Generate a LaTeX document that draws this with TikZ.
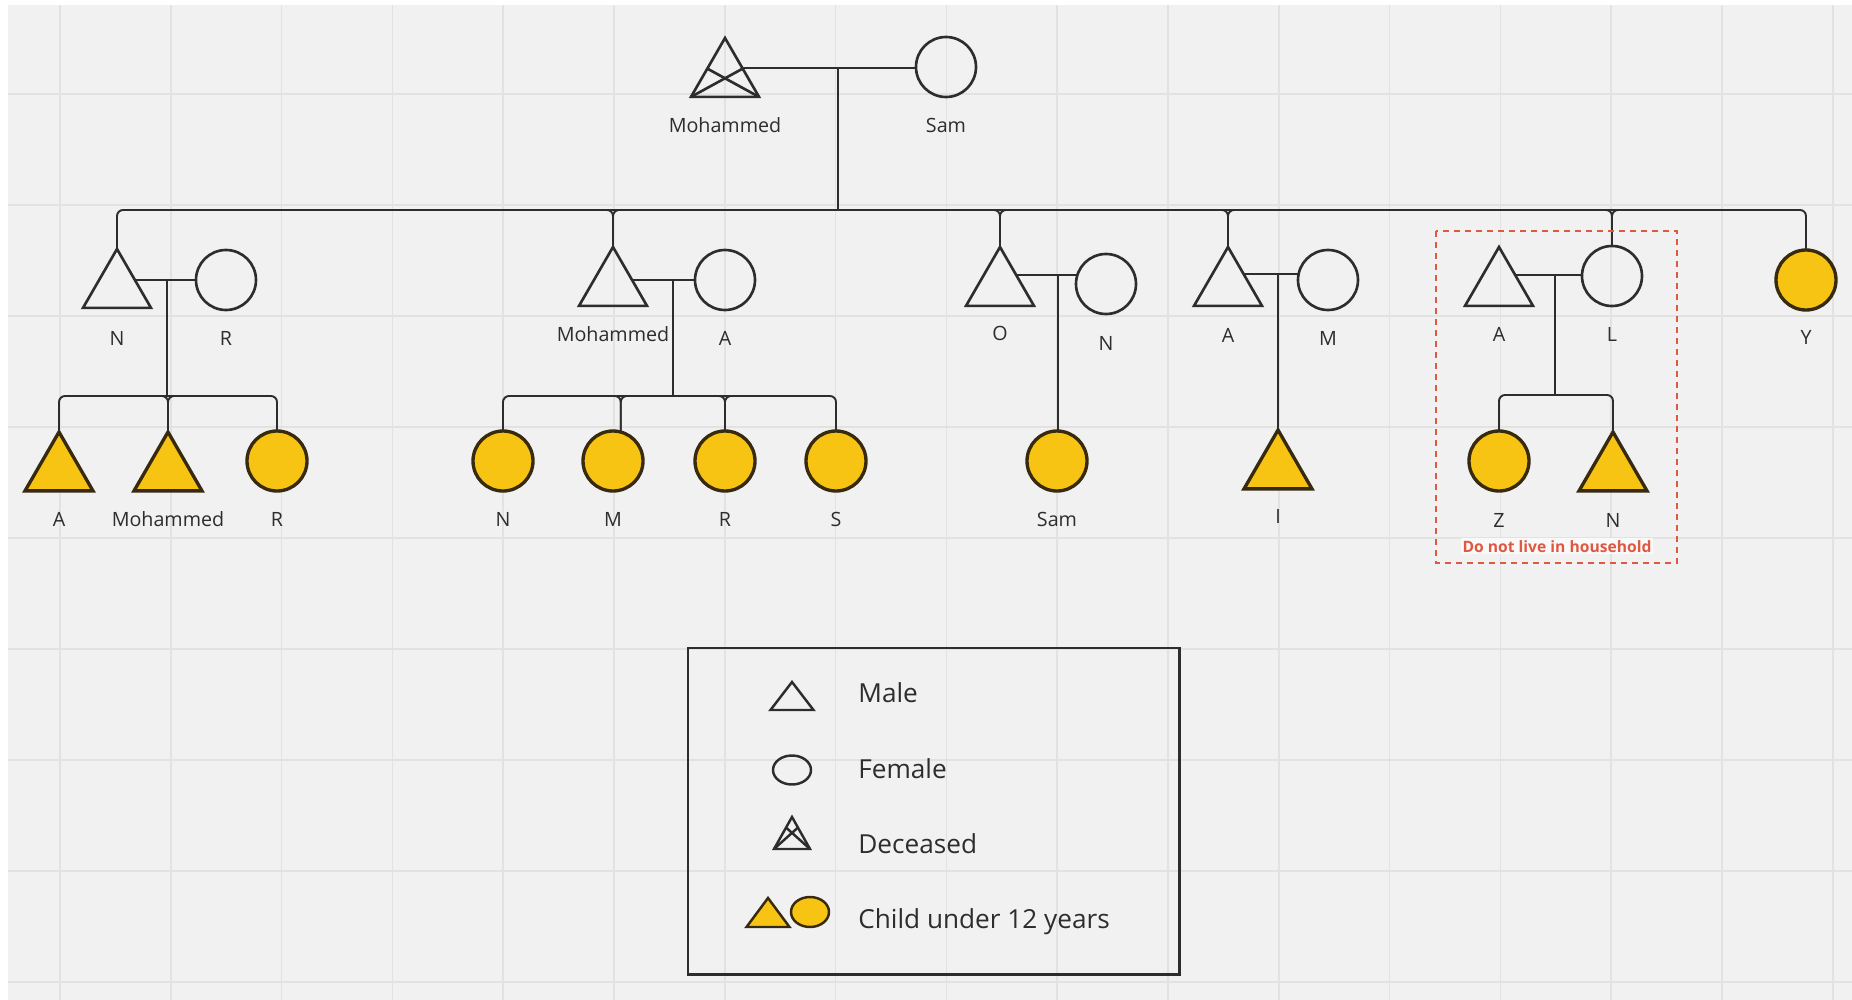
\documentclass[tikz,border=0pt]{standalone}
\usepackage{fontspec}
\setmainfont{Open Sans}
\usepackage{tikz}
\usetikzlibrary{shapes,calc}

\definecolor{board}{RGB}{241,241,241}
\definecolor{boardln}{RGB}{226,226,226}
\definecolor{ink}{RGB}{45,45,45}
\definecolor{kidfill}{RGB}{248,196,20}
\definecolor{kidline}{RGB}{55,42,15}
\definecolor{away}{RGB}{222,88,66}

\tikzset{
	kin/.style={draw=ink, line width=1.1pt, rounded corners=1.2mm},
	male/.style={regular polygon, regular polygon sides=3, draw=ink, line width=1.5pt, minimum size=15.7mm, inner sep=0pt, outer sep=0pt, anchor=corner 1},
	female/.style={circle, draw=ink, line width=1.5pt, minimum size=12mm, inner sep=0pt, outer sep=0pt},
	boy/.style={male, fill=kidfill, draw=kidline, line width=1.9pt},
	girl/.style={female, fill=kidfill, draw=kidline, line width=1.9pt},
	tag/.style={text=ink, font=\fontsize{11.2}{13}\selectfont, anchor=base, inner sep=0pt},
	keytext/.style={text=ink, font=\fontsize{14.9}{18}\selectfont, anchor=base west, inner sep=0pt},
	keysym/.style={draw=ink, line width=1.4pt, line join=miter}
}

\begin{document}
\begin{tikzpicture}[x=0.2mm, y=-0.2mm]
	\useasboundingbox (0,0) rectangle (1852,1000);
	\fill [white] (0,0) rectangle (1852,1000);
	\fill [board] (8,5) rectangle (1852,1000);
	\foreach \gx in {0,...,16} \draw [boardln, line width=1pt] ({60+110.8*\gx},5) -- ({60+110.8*\gx},1000);
	\foreach \gy in {0,...,8} \draw [boardln, line width=1pt] (8,{94+111*\gy}) -- (1852,{94+111*\gy});

	\node [male]	(moh)	at (725,38)	{};
	\node [female]	(sam)	at (946,67)	{};

	\node [male]	(n)	at (117,249)	{};
	\node [female]	(r)	at (226,280)	{};
	\node [male]	(moh2)	at (613,247)	{};
	\node [female]	(a2)	at (725,280)	{};
	\node [male]	(o)	at (1000,247)	{};
	\node [female]	(n3)	at (1106,284)	{};
	\node [male]	(a4)	at (1228,247)	{};
	\node [female]	(m4)	at (1328,280)	{};
	\node [male]	(a5)	at (1499,247)	{};
	\node [female]	(l5)	at (1612,276)	{};
	\node [girl]	(y)	at (1806,280)	{};

	\node [boy]	(k1a)	at (59,432)	{};
	\node [boy]	(k1m)	at (168,432)	{};
	\node [girl]	(k1r)	at (277,461)	{};
	\node [girl]	(k2n)	at (503,461)	{};
	\node [girl]	(k2m)	at (613,461)	{};
	\node [girl]	(k2r)	at (725,461)	{};
	\node [girl]	(k2s)	at (836,461)	{};
	\node [girl]	(k3s)	at (1057,461)	{};
	\node [boy]	(k4i)	at (1278,430)	{};
	\node [girl]	(k5z)	at (1499,461)	{};
	\node [boy]	(k5n)	at (1613,432)	{};

	\draw [ink, line width=1.5pt] (moh.corner 2) -- ($(moh.corner 1)!.52!(moh.corner 3)$);
	\draw [ink, line width=1.5pt] (moh.corner 3) -- ($(moh.corner 1)!.52!(moh.corner 2)$);

	\coordinate (w0) at ($(moh.corner 1)!.51!(moh.corner 3)$);
	\draw [kin] (w0) -- coordinate [pos=.55] (d0) (w0 -| sam.west);
	\draw [kin] (d0) -- (d0 |- 0,210);
	\draw [kin] (n.north) |- (d0 |- 0,210) -| (y.north);

	\coordinate (w1) at ($(n.corner 1)!.525!(n.corner 3)$);
	\draw [kin] (w1) -- coordinate [pos=.52] (d1) (w1 -| r.west);
	\draw [kin] (d1) -- (d1 |- 0,396);
	\draw [kin] (k1a.north) |- (d1 |- 0,396) -| (k1r.north);

	\coordinate (w2) at ($(moh2.corner 1)!.56!(moh2.corner 3)$);
	\draw [kin] (w2) -- coordinate [pos=.65] (d2) (w2 -| a2.west);
	\draw [kin] (d2) -- (d2 |- 0,396);
	\draw [kin] (k2n.north) |- (d2 |- 0,396) -| (k2s.north);

	\coordinate (w3) at ($(o.corner 1)!.475!(o.corner 3)$);
	\draw [kin] (w3) -- coordinate [pos=.68] (d3) (w3 -| n3.163);
	\draw [kin] (d3) -- (d3 |- k3s.north);

	\coordinate (w4) at ($(a4.corner 1)!.46!(a4.corner 3)$);
	\draw [kin] (w4) -- coordinate [pos=.63] (d4) (w4 -| m4.west);
	\draw [kin] (d4) -- (d4 |- k4i.north);

	\coordinate (w5) at ($(a5.corner 1)!.475!(a5.corner 3)$);
	\draw [kin] (w5) -- coordinate [pos=.6] (d5) (w5 -| l5.west);
	\draw [kin] (d5) -- (d5 |- 0,395);
	\draw [kin] (k5z.north) |- (d5 |- 0,395) -| (k5n.north);

	\foreach \who/\lvl in {moh2.north/210, o.north/210, a4.north/210, l5.north/210, k1m.north/396, k2m.75/396, k2r.north/396} {
		\draw [kin] ($(\who |- 0,\lvl)+(-14,0)$) -| (\who);
		\draw [kin] ($(\who |- 0,\lvl)+(14,0)$) -| (\who);
	}

	\node [tag] (tmoh)	at (725,132)	{Mohammed};
	\node [tag] (tsam)	at (946,132)	{Sam};
	\node [tag] (tn)	at (117,345)	{N};
	\node [tag] (tr)	at (226,345)	{R};
	\node [tag] (tmoh2)	at (613,341)	{Mohammed};
	\node [tag] (ta2)	at (725,345)	{A};
	\node [tag] (to)	at (1000,340)	{O};
	\node [tag] (tn3)	at (1106,350)	{N};
	\node [tag] (ta4)	at (1228,342)	{A};
	\node [tag] (tm4)	at (1328,345)	{M};
	\node [tag] (ta5)	at (1499,341)	{A};
	\node [tag] (tl5)	at (1612,341)	{L};
	\node [tag] (ty)	at (1806,344)	{Y};
	\node [tag] (tk1a)	at (59,526)	{A};
	\node [tag] (tk1m)	at (168,526)	{Mohammed};
	\node [tag] (tk1r)	at (277,526)	{R};
	\node [tag] (tk2n)	at (503,526)	{N};
	\node [tag] (tk2m)	at (613,526)	{M};
	\node [tag] (tk2r)	at (725,526)	{R};
	\node [tag] (tk2s)	at (836,526)	{S};
	\node [tag] (tk3s)	at (1057,526)	{Sam};
	\node [tag] (tk4i)	at (1278,523)	{I};
	\node [tag] (tk5z)	at (1499,527)	{Z};
	\node [tag] (tk5n)	at (1613,527)	{N};

	\draw [away, line width=1.1pt, dash pattern=on 1.2mm off 1mm] (1436,231) rectangle (1677,563);
	\node [fill=white!60!board, text=away, font=\bfseries\fontsize{8.9}{10}\selectfont, anchor=base, inner sep=0.4mm] (note) at (1557,552) {Do not live in household};

	\draw [ink, line width=1.7pt] (688,648) rectangle (1179,974);
	\draw [keysym] (792,682) -- (813.5,710) -- (770.5,710) -- cycle;
	\node [ellipse, draw=ink, line width=1.4pt, minimum width=7.6mm, minimum height=5.8mm, inner sep=0pt] (kfem) at (792,770) {};
	\draw [keysym] (792,817) coordinate (dk1) -- (810,849) coordinate (dk3) -- (774,849) coordinate (dk2) -- cycle;
	\draw [keysym] (dk2) -- ($(dk1)!.33!(dk3)$) (dk3) -- ($(dk1)!.33!(dk2)$);
	\draw [keysym, draw=kidline, fill=kidfill] (768,898) -- (789.5,927) -- (746.5,927) -- cycle;
	\node [ellipse, draw=kidline, fill=kidfill, line width=1.4pt, minimum width=7.6mm, minimum height=6mm, inner sep=0pt] (kkid) at (810,912) {};
	\node [keytext] (kmale)	at (858,702)	{Male};
	\node [keytext] (kfemt)	at (858,778)	{Female};
	\node [keytext] (kdead)	at (858,853)	{Deceased};
	\node [keytext] (kchild)	at (858,928)	{Child under 12 years};
\end{tikzpicture}
\end{document}
